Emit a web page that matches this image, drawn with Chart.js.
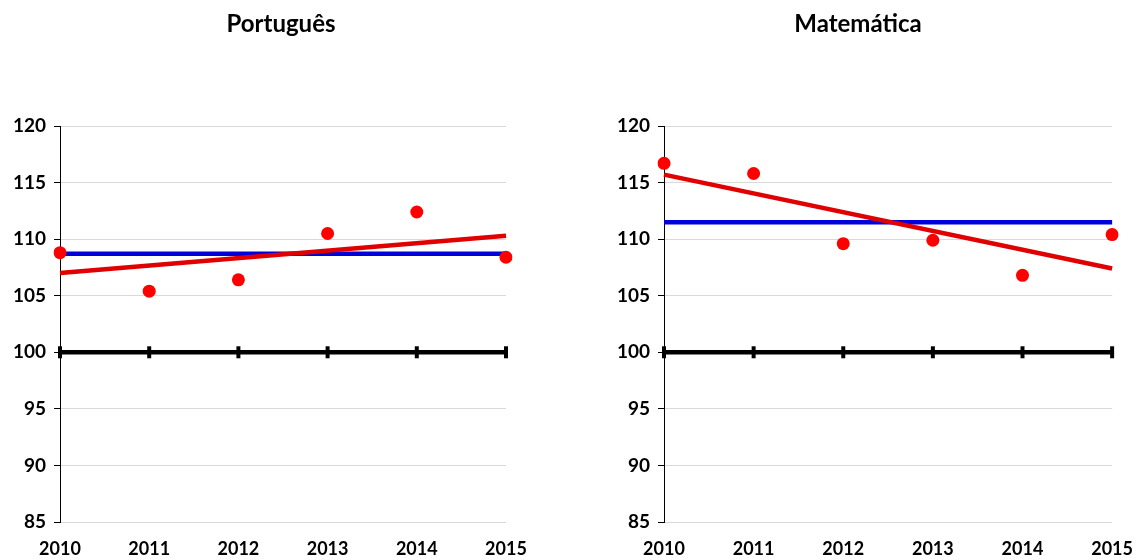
<!DOCTYPE html>
<html>
<head>
<meta charset="utf-8">
<script src="https://cdn.jsdelivr.net/npm/chart.js@4.4.1/dist/chart.umd.min.js"></script>
<style>
  html, body { margin: 0; padding: 0; background: #fff; }
  #wrap { position: relative; width: 1136px; height: 560px; overflow: hidden; }
  .box { position: absolute; top: 0; height: 560px; }
  #boxPt { left: 0; width: 604px; }
  #boxMat { left: 604px; width: 537px; }
  .title {
    position: absolute; top: 8px; width: 300px; margin-left: -150px;
    text-align: center; font: bold 24px Lato, 'Open Sans', sans-serif; color: #000;
  }
</style>
</head>
<body>
<div id="wrap">
  <div class="box" id="boxPt"><canvas id="chartPt"></canvas></div>
  <div class="box" id="boxMat"><canvas id="chartMat"></canvas></div>
  <div class="title" style="left:281px">Português</div>
  <div class="title" style="left:858px">Matemática</div>
</div>
<script>
// Data
const years = ['2010', '2011', '2012', '2013', '2014', '2015'];
const baseline = [100, 100, 100, 100, 100, 100];

const ptValues = [108.8, 105.4, 106.4, 110.5, 112.4, 108.4];
const ptMean = [108.7, 108.7, 108.7, 108.7, 108.7, 108.7];
const ptTrend = [107.0, null, null, null, null, 110.3];

const matValues = [116.7, 115.8, 109.6, 109.9, 106.8, 110.4];
const matMean = [111.5, 111.5, 111.5, 111.5, 111.5, 111.5];
const matTrend = [115.7, null, null, null, null, 107.4];

const yTicks = [85, 90, 95, 100, 105, 110, 115, 120];

Chart.defaults.font.family = "Lato, 'Open Sans', sans-serif";
Chart.defaults.color = '#000';

const makeChart = (id, values, mean, trend, padRight) => {
  const ctx = document.getElementById(id).getContext('2d');
  return new Chart(ctx, {
    type: 'line',
    data: {
      labels: years,
      datasets: [
        {
          label: 'Valores',
          data: values,
          showLine: false,
          pointRadius: 6.5,
          pointHoverRadius: 6.5,
          pointBackgroundColor: '#ff0000',
          pointBorderColor: '#ff0000',
          borderWidth: 0,
          order: 1
        },
        {
          label: 'Tendência',
          data: trend,
          spanGaps: true,
          borderColor: '#e00000',
          borderWidth: 4.5,
          pointRadius: 0,
          order: 2
        },
        {
          label: 'Média',
          data: mean,
          borderColor: '#0000dd',
          borderWidth: 4.5,
          pointRadius: 0,
          order: 3
        },
        {
          label: 'Base',
          data: baseline,
          borderColor: '#000',
          borderWidth: 4.5,
          pointStyle: 'line',
          pointRotation: 90,
          pointRadius: 6,
          pointBorderWidth: 4,
          pointBorderColor: '#000',
          order: 4
        }
      ]
    },
    options: {
      responsive: true,
      maintainAspectRatio: false,
      animation: false,
      layout: { padding: { top: 126, right: padRight, left: 0, bottom: 0 } },
      plugins: {
        legend: { display: false },
        tooltip: { enabled: false },
        title: { display: false }
      },
      scales: {
        x: {
          offset: false,
          grid: { display: false },
          border: { display: false },
          ticks: { font: { size: 18, weight: 'bold' }, padding: 8, maxRotation: 0 },
          afterFit: (s) => { s.height = 38; }
        },
        y: {
          min: 85,
          max: 120,
          afterBuildTicks: (s) => { s.ticks = yTicks.map(v => ({ value: v })); },
          grid: { color: '#d9d9d9', lineWidth: 1, tickLength: 6, tickColor: '#000' },
          border: { display: true, color: '#000', width: 1 },
          ticks: { font: { size: 19, weight: 'bold' }, padding: 8 },
          afterFit: (s) => { s.width = 60; }
        }
      }
    }
  });
};

makeChart('chartPt', ptValues, ptMean, ptTrend, 98);
makeChart('chartMat', matValues, matMean, matTrend, 0);
</script>
</body>
</html>
